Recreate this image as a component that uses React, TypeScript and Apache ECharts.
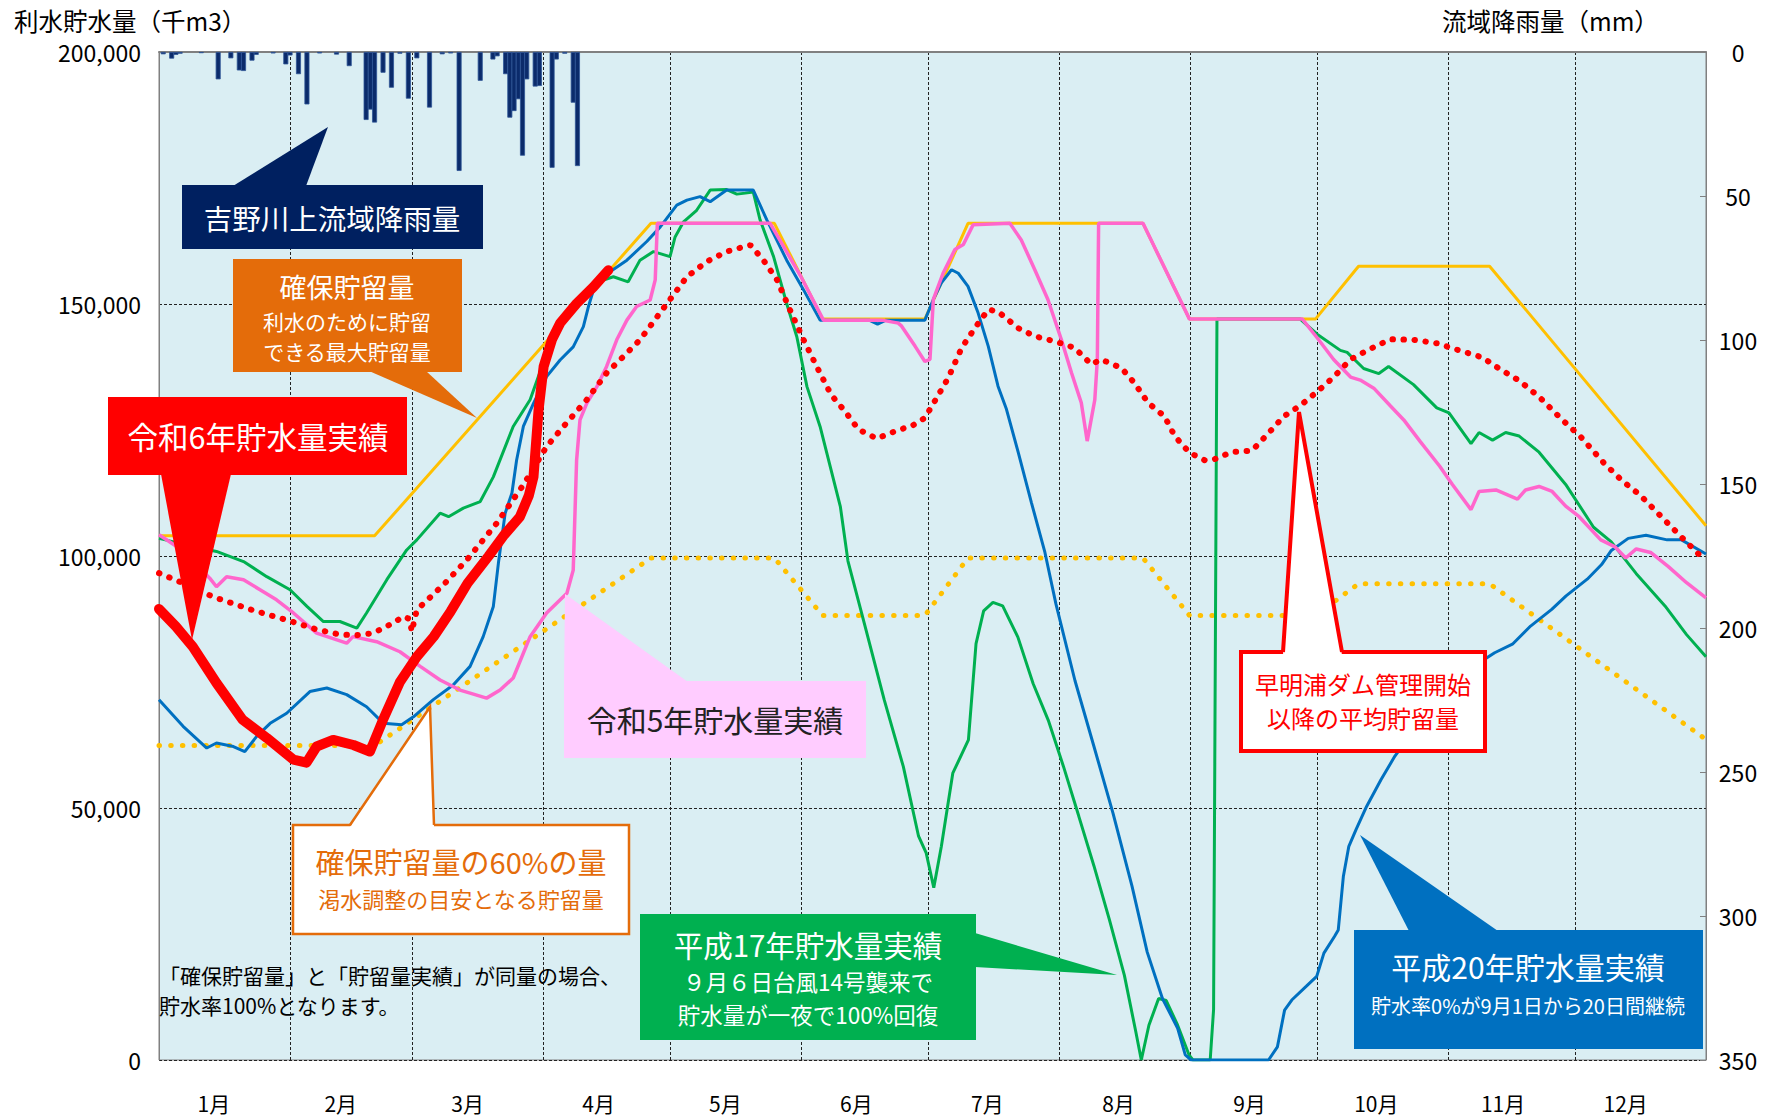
import React, { useEffect, useRef } from 'react';
import * as echarts from 'echarts';

// ---- axes ----
const dayCategories: string[] = Array.from({ length: 367 }, (_, i) => String(i));
const monthStarts = [0, 31, 60, 91, 121, 152, 182, 213, 244, 274, 305, 335, 366];
const monthLabelDays = [13, 43, 73, 104, 134, 165, 196, 227, 258, 288, 318, 347];
const monthLabels = ['1月', '2月', '3月', '4月', '5月', '6月', '7月', '8月', '9月', '10月', '11月', '12月'];

// ---- series (day of year, 千m3) ----
const reiwa6: [number, number][] = [
  [0, 89500], [4, 86000], [8, 82000], [13.6, 74800], [19.8, 67500], [25.5, 63900], [31.8, 59600], [34.9, 59000],
  [37.3, 62200], [41.2, 63500], [46, 62500], [49.9, 61200], [53, 67500], [57, 75000], [61, 80000], [65, 84000],
  [69, 89000], [73, 94600], [78, 100000], [81.5, 104000], [85.4, 107800], [87.5, 112000], [88.6, 115700],
  [89.8, 129000], [91, 137600], [93, 143000], [94.9, 146200], [98.8, 150100], [102.8, 153400], [106.3, 156700],
];

const kakuho: [number, number][] = [
  [0, 104000], [51, 104000], [116.4, 166000], [145.6, 166000], [157, 147000], [181.2, 147000], [191.4, 166000],
  [232.8, 166000], [243.8, 147000], [273.6, 147000], [283.8, 157500], [314.8, 157500], [366, 106000],
];

const kakuho60: [number, number][] = [
  [0, 62400], [51, 62400], [116.4, 99600], [145.6, 99600], [157, 88200], [181.2, 88200], [191.4, 99600],
  [232.8, 99600], [243.8, 88200], [273.6, 88200], [283.8, 94500], [314.8, 94500], [366, 63600],
];

const average: [number, number][] = [
  [0, 96600], [6, 94500], [12.8, 91900], [22, 89300], [31.4, 87000], [37, 85500], [42.8, 84400], [47, 84300],
  [50.7, 84700], [55.4, 86700], [57.8, 88000], [59.3, 87500], [59.8, 85000], [61, 89300], [67.3, 94300],
  [72.8, 99200], [79.9, 106500], [86.2, 114100], [91.7, 121700], [95.7, 125700], [101.2, 131000], [105.9, 136300],
  [109.9, 139600], [113.8, 142900], [117, 146500], [121.7, 151800], [124.9, 155400], [129.6, 158400],
  [134.3, 160400], [139.9, 161700], [143, 158700], [146.2, 154800], [149.3, 148800], [152.5, 142900],
  [155.6, 137600], [159, 132000], [162.3, 128700], [165.5, 125100], [169.8, 123300], [174.9, 125000],
  [178.1, 125800], [181.2, 127400], [184, 131400], [186.7, 135300], [189.9, 141300], [193, 145200],
  [196.2, 148900], [198.5, 148500], [203.3, 145200], [207.2, 143600], [211.9, 142600], [216.6, 141300],
  [220.6, 138000], [222.9, 139000], [227.7, 137300], [230.8, 134300], [234, 130400], [237.9, 127700],
  [240.3, 123800], [243.8, 120500], [247.4, 119000], [249.7, 119200], [253.7, 120600], [258.6, 120900],
  [262.2, 124100], [266.1, 127700], [270.1, 129900], [274, 132600], [277.9, 135500], [281.9, 139000],
  [286.6, 141100], [291.3, 143000], [296.8, 142900], [302.3, 142200], [307.6, 140800], [313.1, 139400],
  [317, 137200], [321.8, 134800], [326.5, 131600], [332, 127000], [336.2, 123800], [341.9, 118400],
  [346.2, 114900], [350.4, 112100], [354.6, 108500], [360.5, 103500], [364.7, 100000], [366, 99000],
];

const heisei17: [number, number][] = [
  [0, 103500], [6, 102300], [13.6, 100900], [20, 98900], [25.5, 95900], [31, 93300], [35, 90000], [38.9, 87000],
  [42.8, 87000], [46.8, 85700], [49.1, 88700], [53.9, 95300], [58.6, 101200], [61, 103200], [66.5, 108500],
  [68.5, 107800], [72, 109500], [76, 110800], [79.1, 115700], [83.8, 125700], [87.8, 131000], [91.7, 140200],
  [94.9, 146200], [98.8, 150500], [102.8, 154100], [107.5, 155400], [111, 154400], [113.8, 158700],
  [117, 160400], [120.9, 159400], [122.1, 163300], [124.1, 166300], [127.2, 168600], [130.4, 172600],
  [134.3, 172700], [136.7, 171800], [138.7, 172000], [140.6, 172200], [142.2, 166700], [145.4, 159400],
  [148.5, 150100], [150.9, 143500], [153.3, 133600], [156.4, 125700], [161.2, 109800], [163, 99000],
  [167.1, 85900], [171.6, 71400], [176.1, 58200], [179.7, 44400], [181.5, 41100], [183.3, 34200],
  [185.1, 42400], [187.8, 56900], [191.5, 63500], [193.3, 82600], [195.1, 89100], [197.3, 90800],
  [199.6, 90100], [203.2, 83900], [206.8, 74700], [210.4, 67400], [214, 58200], [217.6, 48400],
  [221.2, 38500], [224.8, 28000], [228.4, 16800], [231.1, 5600], [232.4, 0], [234.2, 6900], [236.5, 12200],
  [238.3, 11800], [241, 6900], [243.7, 1000], [244.6, 0], [248.7, 0], [249.5, 10000], [250.3, 147000],
  [270, 147000], [274, 144000], [279.5, 140800], [281.1, 140400], [285, 137200], [288.6, 136200],
  [290.9, 137600], [296.8, 134000], [302.3, 129400], [305.2, 128400], [310.4, 122300], [312.3, 124500],
  [315.5, 123000], [318.6, 124500], [321.8, 123800], [326.5, 120600], [332.8, 114200], [339.4, 105700],
  [343.6, 102800], [349.5, 96500], [356.3, 90100], [361.4, 84400], [366, 80000],
];

const heisei20: [number, number][] = [
  [0, 71500], [5.7, 66200], [11.3, 61900], [13.6, 62900], [17.6, 62200], [20.3, 61200], [23.1, 64200],
  [26.3, 66800], [30.2, 68800], [35.7, 73100], [39.7, 73800], [44.4, 72500], [49.1, 70100], [53.1, 66800],
  [57.4, 66500], [60.2, 68100], [64.9, 71500], [69.6, 74400], [73.6, 78100], [76.7, 84000], [79.1, 90000],
  [80.3, 98600], [81.9, 108500], [83.5, 112500], [84.6, 119000], [86.2, 125700], [88.6, 130300],
  [91.7, 135600], [94.9, 138900], [98, 141500], [100.4, 145500], [101.6, 149500], [102.8, 152800],
  [106.7, 156400], [110.7, 158700], [115.4, 162400], [118.6, 165300], [122.5, 169600], [124.9, 170600],
  [128, 171300], [130.4, 170300], [134.3, 172600], [140.6, 172600], [143.8, 166700], [148.5, 158700],
  [152.5, 152800], [156.4, 146800], [168, 146800], [170, 146000], [172, 146800], [181.2, 146800],
  [183.2, 150900], [185.1, 154200], [187.5, 156800], [189.1, 156100], [191.4, 153500], [193.8, 148200],
  [196.2, 141600], [198.5, 133700], [200.5, 129100], [203.3, 120500], [206.4, 110600], [209.6, 100700],
  [212.2, 90500], [216.7, 75300], [221.2, 62200], [225.7, 49000], [230.2, 34500], [233.8, 21400],
  [237.4, 12200], [241, 6300], [242.8, 1000], [244.2, 0], [262.5, 0], [264.6, 2600], [266.3, 9900],
  [268, 11900], [271.4, 14600], [273.9, 16600], [275.6, 21200], [278.1, 24500], [279, 25800], [280.2, 36400],
  [281.5, 42400], [283.2, 45700], [285.7, 50300], [289.1, 55600], [292.4, 60300], [295.8, 64200],
  [299.2, 67500], [304.2, 72800], [311, 78100], [316, 80800], [320.2, 82500], [324.5, 86100], [329.5, 89400],
  [332.9, 92100], [337.9, 95400], [341.3, 98300], [343.6, 101100], [347.6, 103500], [351.8, 104100],
  [356.8, 103200], [360.2, 103200], [366, 100400],
];

const reiwa5: [number, number][] = [
  [0, 104200], [4, 102000], [8, 99000], [12, 95600], [13.6, 93900], [16, 95900], [20, 95300], [23.9, 93300],
  [27.8, 91300], [31.8, 88700], [37.3, 84700], [44.4, 82700], [45.9, 84000], [51.5, 83000], [57, 81000],
  [61.8, 78100], [66.5, 75400], [71.2, 73400], [73.6, 72800], [77.5, 71800], [80.7, 73400], [83.8, 75800],
  [87.8, 84000], [91.7, 88700], [96.5, 92600], [98, 97200], [98.8, 119000], [99.6, 127000], [101.2, 130300],
  [103.6, 133600], [105.9, 137600], [108.3, 142900], [110.7, 146800], [113, 149500], [116.2, 150800],
  [117.4, 154800], [117.9, 166000], [144.6, 166000], [151.7, 155700], [157.2, 146800], [171, 146800],
  [174.9, 146200], [175.7, 145600], [178.9, 141600], [181.2, 138600], [182.4, 139000], [183.2, 150900],
  [185.5, 156100], [188.3, 160800], [190.3, 161800], [192.6, 165700], [201.3, 166000], [204, 162700],
  [207.2, 156800], [210.3, 150900], [213.5, 142900], [215.9, 136300], [218.2, 130400], [219.6, 122800],
  [221.4, 131000], [222, 139000], [222.3, 166000], [232.8, 166000], [243.8, 147000], [270.5, 147000],
  [274, 143300], [277.9, 139000], [281.9, 135500], [284.2, 134900], [287.4, 133300], [291.3, 129800],
  [294.5, 127000], [298.4, 122700], [303, 117800], [306, 114200], [310.4, 109200], [312.3, 112800],
  [316.3, 113100], [321.4, 111300], [323.3, 113100], [326.5, 113800], [329.6, 112800], [332.8, 109900],
  [336, 107800], [341.1, 103200], [344.5, 101800], [347, 99600], [349.5, 101400], [352.9, 100700],
  [357.1, 97900], [361.4, 94700], [366, 91700],
];

// ---- rainfall (day of year, mm) ----
const rainfall: [number, number][] = [
  [1, 0.8], [3, 2.3], [4, 1], [5, 0.6], [10, 0.4], [14, 9.5], [17, 2.2], [19, 6.4], [20, 6.6], [22, 3], [23, 1],
  [27, 0.5], [30, 4.3], [31, 1.2], [33, 7.7], [35, 18.2], [38, 0.5], [42, 0.9], [45, 4.9], [49, 23.6], [50, 20],
  [51, 24.5], [53, 7.2], [55, 12.4], [57, 0.6], [59, 16.2], [61, 2.2], [64, 19.3], [67, 0.8], [69, 0.5],
  [71, 41.3], [76, 10], [79, 2.6], [80, 1.5], [82, 7.7], [83, 22.8], [84, 20.5], [85, 16.4], [86, 36],
  [87, 9.5], [89, 12], [90, 11.8], [93, 40.2], [94, 2.6], [96, 0.6], [98, 17.6], [99, 39.6],
];

const JP = '"Noto Sans CJK JP", "Noto Sans", sans-serif';

function txt(x: number, y: number, text: string, size: number, fill: string, align = 'center') {
  return {
    type: 'text', x, y, z: 110,
    style: {
      text, fill, font: `${size}px ${JP}`, lineHeight: Math.round(size * 1.15),
      textAlign: align, textVerticalAlign: 'middle',
    },
  };
}

export default function App() {
  const ref = useRef<HTMLDivElement>(null);
  useEffect(() => {
    if (!ref.current) return;
    const chart = echarts.init(ref.current, undefined, { renderer: 'svg' });
    const boundarySet = new Set(monthStarts.filter((d) => d > 0 && d < 366));
    const labelMap: Record<string, string> = {};
    monthLabelDays.forEach((d, i) => { labelMap[String(d)] = monthLabels[i]; });
    const labelSet = new Set(monthLabelDays);

    const lineBase = { type: 'line', xAxisIndex: 0, yAxisIndex: 0, symbol: 'none', silent: true };

    const option: any = {
      animation: false,
      backgroundColor: '#ffffff',
      textStyle: { fontFamily: JP },
      grid: {
        left: 159, right: 63, top: 52, bottom: 57, show: true,
        backgroundColor: '#DAEEF3', borderColor: '#808080', borderWidth: 1,
      },
      xAxis: [
        { type: 'value', min: 0, max: 366, show: false, position: 'top' },
        {
          type: 'category', data: dayCategories, boundaryGap: false, position: 'bottom',
          axisLine: { show: true, lineStyle: { color: '#808080', width: 2 } },
          axisTick: { show: false },
          axisLabel: {
            interval: (i: number) => labelSet.has(i),
            formatter: (v: string) => labelMap[v] ?? '',
            margin: 31, fontSize: 21, lineHeight: 24, color: '#000', fontFamily: JP,
          },
          splitLine: {
            show: true,
            interval: (i: number) => boundarySet.has(i),
            lineStyle: { color: '#222', type: [3, 2], width: 1 },
          },
        },
      ],
      yAxis: [
        {
          type: 'value', min: 0, max: 200000, interval: 50000, position: 'left',
          axisLine: { show: true, lineStyle: { color: '#808080' } },
          axisTick: { show: false },
          axisLabel: {
            fontSize: 23, lineHeight: 26, color: '#000', margin: 18, fontFamily: JP,
            formatter: (v: number) => v.toLocaleString('en-US'),
          },
          splitLine: { show: true, lineStyle: { color: '#222', type: [3, 2], width: 1 } },
        },
        {
          type: 'value', min: 0, max: 350, interval: 50, position: 'right', inverse: true,
          axisLine: { show: true, lineStyle: { color: '#808080' } },
          axisTick: { show: true, inside: true, length: 6, lineStyle: { color: '#808080' } },
          axisLabel: { fontSize: 23, lineHeight: 26, color: '#000', margin: 32, align: 'center', fontFamily: JP },
          splitLine: { show: false },
        },
      ],
      series: [
        {
          name: '吉野川上流域降雨量', type: 'bar', xAxisIndex: 1, yAxisIndex: 1, data: rainfall,
          barWidth: 5, silent: true,
          itemStyle: { color: '#0B2B6B', borderColor: '#2E5597', borderWidth: 0.8 },
        },
        {
          ...lineBase, name: '確保貯留量の60%', data: kakuho60, z: 3,
          lineStyle: { color: '#FFC000', width: 5, type: [0.5, 11.2], cap: 'round' },
        },
        {
          ...lineBase, name: '確保貯留量', data: kakuho, z: 3,
          lineStyle: { color: '#FFC000', width: 3 },
        },
        {
          ...lineBase, name: '平成17年', data: heisei17, z: 4,
          lineStyle: { color: '#00B050', width: 3 },
        },
        {
          ...lineBase, name: '平成20年', data: heisei20, z: 4,
          lineStyle: { color: '#0070C0', width: 3 },
        },
        {
          ...lineBase, name: '令和5年', data: reiwa5, z: 5,
          lineStyle: { color: '#FF66CC', width: 3.5 },
        },
        {
          ...lineBase, name: '平均貯留量', data: average, z: 6,
          lineStyle: { color: '#FF0000', width: 6, type: [0.5, 10.5], cap: 'round' },
        },
        {
          ...lineBase, name: '令和6年', data: reiwa6, z: 7,
          lineStyle: { color: '#FF0000', width: 10, cap: 'round', join: 'round' },
        },
      ],
      graphic: [
        txt(14, 20, '利水貯水量（千m3）', 24.5, '#000', 'left'),
        txt(1442, 20, '流域降雨量（mm）', 24.5, '#000', 'left'),
        // rainfall callout
        { type: 'polygon', z: 100, shape: { points: [[233, 186], [328, 127], [306, 186]] }, style: { fill: '#002060' } },
        { type: 'rect', z: 100, shape: { x: 182, y: 185, width: 301, height: 64 }, style: { fill: '#002060' } },
        txt(332, 217, '吉野川上流域降雨量', 28.5, '#fff'),
        // 確保貯留量 callout
        { type: 'polygon', z: 100, shape: { points: [[369, 371], [477, 418], [426, 371]] }, style: { fill: '#E46C0A' } },
        { type: 'rect', z: 100, shape: { x: 233, y: 259, width: 229, height: 113 }, style: { fill: '#E46C0A' } },
        txt(347, 286, '確保貯留量', 27, '#fff'),
        txt(347, 321, '利水のために貯留', 21, '#fff'),
        txt(347, 351, 'できる最大貯留量', 21, '#fff'),
        // 令和6年 callout
        { type: 'polygon', z: 100, shape: { points: [[161, 474], [192, 640], [231, 474]] }, style: { fill: '#FF0000' } },
        { type: 'rect', z: 100, shape: { x: 108, y: 397, width: 299, height: 78 }, style: { fill: '#FF0000' } },
        txt(258, 436, '令和6年貯水量実績', 30.5, '#fff'),
        // 令和5年 callout
        { type: 'polygon', z: 100, shape: { points: [[565, 594], [564, 682], [688, 682]] }, style: { fill: '#FFCCFF' } },
        { type: 'rect', z: 100, shape: { x: 564, y: 681, width: 302, height: 77 }, style: { fill: '#FFCCFF' } },
        txt(715, 719, '令和5年貯水量実績', 30, '#222'),
        // 60% callout
        { type: 'rect', z: 100, shape: { x: 293, y: 825, width: 336, height: 109 }, style: { fill: '#fff', stroke: '#E46C0A', lineWidth: 2.5 } },
        { type: 'polygon', z: 101, shape: { points: [[350, 827], [430, 707], [434, 827]] }, style: { fill: '#fff' } },
        { type: 'polyline', z: 102, shape: { points: [[350, 825], [430, 707], [434, 825]] }, style: { stroke: '#E46C0A', lineWidth: 2.5, fill: null } },
        txt(461, 861, '確保貯留量の60%の量', 29, '#E46C0A'),
        txt(461, 898, '渇水調整の目安となる貯留量', 22, '#E46C0A'),
        // 平均貯留量 callout
        { type: 'rect', z: 100, shape: { x: 1241, y: 652, width: 244, height: 99 }, style: { fill: '#fff', stroke: '#FF0000', lineWidth: 4 } },
        { type: 'polygon', z: 101, shape: { points: [[1283, 655], [1299, 412], [1342, 655]] }, style: { fill: '#fff' } },
        { type: 'polyline', z: 102, shape: { points: [[1283, 652], [1299, 412], [1342, 652]] }, style: { stroke: '#FF0000', lineWidth: 4, fill: null } },
        txt(1363, 683, '早明浦ダム管理開始', 24, '#FF0000'),
        txt(1363, 717, '以降の平均貯留量', 24, '#FF0000'),
        // 平成17年 callout
        { type: 'polygon', z: 100, shape: { points: [[975, 933], [1117, 975], [975, 967]] }, style: { fill: '#00B050' } },
        { type: 'rect', z: 100, shape: { x: 640, y: 914, width: 336, height: 126 }, style: { fill: '#00B050' } },
        txt(808, 944, '平成17年貯水量実績', 29.5, '#fff'),
        txt(808, 981, '９月６日台風14号襲来で', 22.5, '#fff'),
        txt(808, 1014, '貯水量が一夜で100%回復', 22.5, '#fff'),
        // 平成20年 callout
        { type: 'polygon', z: 100, shape: { points: [[1360, 835], [1409, 931], [1498, 931]] }, style: { fill: '#0070C0' } },
        { type: 'rect', z: 100, shape: { x: 1354, y: 930, width: 349, height: 119 }, style: { fill: '#0070C0' } },
        txt(1528, 966, '平成20年貯水量実績', 30, '#fff'),
        txt(1528, 1005, '貯水率0%が9月1日から20日間継続', 20, '#fff'),
        // note
        txt(159, 975, '「確保貯留量」と「貯留量実績」が同量の場合、', 21, '#000', 'left'),
        txt(159, 1005, '貯水率100%となります。', 21, '#000', 'left'),
      ],
    };
    chart.setOption(option);
    return () => chart.dispose();
  }, []);
  return (
    <div
      ref={ref}
      style={{ position: 'fixed', left: 0, top: 0, width: 1769, height: 1117, background: '#fff' }}
    />
  );
}
